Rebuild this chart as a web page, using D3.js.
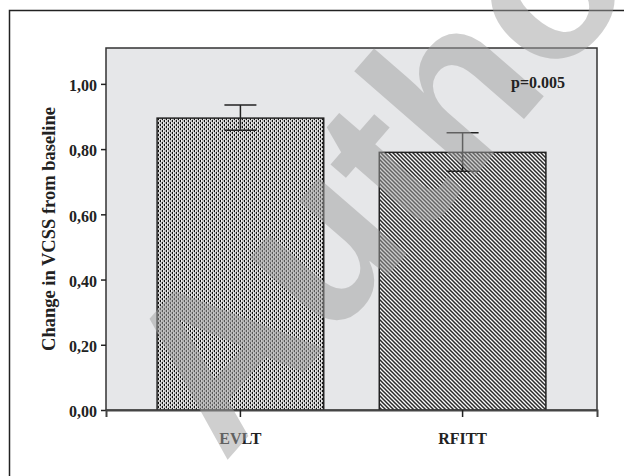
<!DOCTYPE html>
<html>
<head>
<meta charset="utf-8">
<script src="https://cdn.jsdelivr.net/npm/d3@7"></script>
<style>
  body { margin: 0; background: #fff; }
  svg { display: block; }
  .serif { font-family: 'Liberation Serif', 'Times New Roman', serif; font-weight: bold; fill: #222; }
</style>
</head>
<body>
<div id="chart"></div>
<script>
// data
const groups = ['EVLT', 'RFITT'];
const means = [0.895, 0.79];
const errLow = [0.858, 0.732];
const errHigh = [0.935, 0.850];
const yTicks = [0, 0.2, 0.4, 0.6, 0.8, 1.0];
const yLabel = 'Change in VCSS from baseline';
const pText = 'p=0.005';
const watermark = 'Author';

const svgWidth = 624;
const svgHeight = 476;

const plot = {left: 106, right: 597, top: 48, bottom: 410};

const svg = d3.select('#chart')
                .append('svg')
                .attr('width', svgWidth)
                .attr('height', svgHeight);

const defs = svg.append('defs');

// fine checkered dot pattern for EVLT
const dots = defs.append('pattern')
                 .attr('id', 'dots')
                 .attr('patternUnits', 'userSpaceOnUse')
                 .attr('width', 4)
                 .attr('height', 4);
dots.append('rect').attr('width', 4).attr('height', 4).attr('fill', '#f0f0f0');
dots.append('rect').attr('x', 0).attr('y', 0).attr('width', 1).attr('height', 2).attr('fill', '#111');
dots.append('rect').attr('x', 2).attr('y', 0).attr('width', 2).attr('height', 2).attr('fill', '#bbb');
dots.append('rect').attr('x', 0).attr('y', 2).attr('width', 2).attr('height', 2).attr('fill', '#bbb');
dots.append('rect').attr('x', 2).attr('y', 2).attr('width', 1).attr('height', 2).attr('fill', '#111');

// diagonal hatch for RFITT
const hatch = defs.append('pattern')
                  .attr('id', 'hatch')
                  .attr('patternUnits', 'userSpaceOnUse')
                  .attr('width', 4)
                  .attr('height', 4);
hatch.append('rect').attr('width', 4).attr('height', 4).attr('fill', '#fafafa');
hatch.append('path')
    .attr('d', 'M-1,-1 L5,5 M-1,3 L1,5 M3,-1 L5,1')
    .attr('stroke', '#2a2a2a')
    .attr('stroke-width', 1.5);

const fills = ['url(#dots)', 'url(#hatch)'];

// outer frame (only top and left edges are visible)
svg.append('path')
    .attr('d', `M9.5,${svgHeight} V10.5 H${svgWidth}`)
    .attr('fill', 'none')
    .attr('stroke', '#222')
    .attr('stroke-width', 1.5);

const x = d3.scaleBand()
              .domain(groups)
              .range([plot.left, plot.right])
              .paddingInner(0.25)
              .paddingOuter(0.23);

const y = d3.scaleLinear()
              .domain([0, 1.11])
              .range([plot.bottom, plot.top]);

// plot background
svg.append('rect')
    .attr('x', plot.left)
    .attr('y', plot.top)
    .attr('width', plot.right - plot.left)
    .attr('height', plot.bottom - plot.top)
    .attr('fill', '#e6e7e9')
    .attr('stroke', '#333')
    .attr('stroke-width', 1.5);

// bars
svg.selectAll('rect.bar')
    .data(groups)
    .join('rect')
    .classed('bar', true)
    .attr('x', d => x(d))
    .attr('y', (d, i) => y(means[i]))
    .attr('width', x.bandwidth())
    .attr('height', (d, i) => y(0) - y(means[i]))
    .attr('fill', (d, i) => fills[i])
    .attr('stroke', '#222')
    .attr('stroke-width', 1.5);

// error bars
const capHalf = 16;
const errGroup = svg.append('g')
                     .attr('stroke', '#222')
                     .attr('stroke-width', 1.5);
groups.forEach((g, i) => {
  const cx = x(g) + x.bandwidth() / 2;
  errGroup.append('line')
      .attr('x1', cx).attr('x2', cx)
      .attr('y1', y(errLow[i])).attr('y2', y(errHigh[i]));
  [errLow[i], errHigh[i]].forEach(v => {
    errGroup.append('line')
        .attr('x1', cx - capHalf).attr('x2', cx + capHalf)
        .attr('y1', y(v)).attr('y2', y(v));
  });
});

// y axis
const yAxis = svg.append('g')
                  .attr('transform', `translate(${plot.left}, 0)`)
                  .call(d3.axisLeft(y)
                            .tickValues(yTicks)
                            .tickSize(5)
                            .tickPadding(4)
                            .tickFormat(d => d3.format('.2f')(d).replace('.', ',')));
yAxis.select('.domain').remove();
yAxis.selectAll('line').attr('stroke', '#222').attr('stroke-width', 1.5);
yAxis.selectAll('text')
    .attr('class', 'serif')
    .attr('dy', '0.42em')
    .style('font-size', '16px');

// x axis
const xAxis = svg.append('g')
                  .attr('transform', `translate(0, ${plot.bottom})`)
                  .call(d3.axisBottom(x).tickSize(7).tickPadding(16));
xAxis.select('.domain')
    .attr('stroke', '#444')
    .attr('stroke-width', 2);
xAxis.selectAll('line').attr('stroke', '#222').attr('stroke-width', 1.5);
xAxis.selectAll('text')
    .attr('class', 'serif')
    .style('font-size', '16px');

// axis title
svg.append('text')
    .attr('class', 'serif')
    .attr('transform', `translate(55, ${(plot.top + plot.bottom) / 2}) rotate(-90)`)
    .attr('text-anchor', 'middle')
    .style('font-size', '18.5px')
    .text(yLabel);

// watermark over the plot
svg.append('text')
    .attr('transform', 'translate(224, 464) rotate(-49)')
    .attr('fill', '#a0a0a0')
    .attr('opacity', 0.5)
    .style('font-family', "'Liberation Sans', Arial, sans-serif")
    .style('font-weight', 'bold')
    .style('font-size', '220px')
    .text(watermark);

// p value stays dark above the watermark
svg.append('text')
    .attr('class', 'serif')
    .attr('x', 511)
    .attr('y', 88)
    .style('font-size', '16px')
    .text(pText);
</script>
</body>
</html>
